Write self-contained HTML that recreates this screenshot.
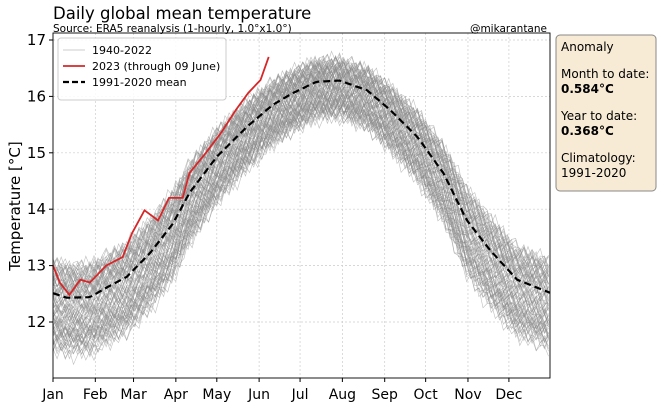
<!DOCTYPE html>
<html><head><meta charset="utf-8"><style>
body{margin:0;background:#fff;width:660px;height:408px;overflow:hidden;font-family:"DejaVu Sans","Liberation Sans",sans-serif}
svg text{font-family:"DejaVu Sans","Liberation Sans",sans-serif}
</style></head><body>
<svg id="chart" width="660" height="408" viewBox="0 0 660 408">
<text x="53" y="19" font-size="16.5" fill="#000">Daily global mean temperature</text>
<text x="53" y="32" font-size="10.5" fill="#000">Source: ERA5 reanalysis (1-hourly, 1.0°x1.0°)</text>
<text x="547" y="32" font-size="10.5" text-anchor="end" fill="#000">@mikarantane</text>
<g id="grid"></g>
<g id="gray"></g>
<g id="main"></g>
<rect x="53" y="33" width="497" height="345" fill="none" stroke="#000" stroke-width="0.9"/>
<g id="axes"></g>
<text transform="translate(20,206) rotate(-90)" font-size="15" text-anchor="middle">Temperature [°C]</text>
<g>
<rect x="58" y="38" width="168" height="62" rx="3" fill="#fff" fill-opacity="0.85" stroke="#ccc"/>
<line x1="63" y1="50" x2="85" y2="50" stroke="#ccc" stroke-width="1"/>
<text x="92" y="54" font-size="11">1940-2022</text>
<line x1="63" y1="66" x2="85" y2="66" stroke="#d62728" stroke-width="1.8"/>
<text x="92" y="70" font-size="11">2023 (through 09 June)</text>
<line x1="63" y1="82" x2="85" y2="82" stroke="#000" stroke-width="2.2" stroke-dasharray="6,3"/>
<text x="92" y="86" font-size="11">1991-2020 mean</text>
</g>
<g>
<rect x="556" y="35" width="100" height="156" rx="4" fill="#f7ebd5" stroke="#888"/>
<text x="561" y="51" font-size="12">Anomaly</text>
<text x="561" y="78" font-size="12">Month to date:</text>
<text x="561" y="93" font-size="12" font-weight="bold">0.584°C</text>
<text x="561" y="120" font-size="12">Year to date:</text>
<text x="561" y="135" font-size="12" font-weight="bold">0.368°C</text>
<text x="561" y="162" font-size="12">Climatology:</text>
<text x="561" y="177" font-size="12">1991-2020</text>
</g>
</svg>
<script>
const meanDays=[0,10,27,40,54,71,88,100,120,142,161,175,193,210,230,247,267,286,303,320,340,365];
const meanVals=[12.51,12.43,12.44,12.62,12.8,13.22,13.75,14.29,14.93,15.46,15.85,16.05,16.26,16.28,16.11,15.76,15.28,14.64,13.81,13.28,12.75,12.51];
const y2023Days=[0,5,12,20,27,39,51,58,67,77,85,95,100,112,123,134,143,152,158];
const y2023Vals=[13.0,12.7,12.48,12.75,12.7,13.0,13.15,13.58,13.98,13.8,14.2,14.2,14.64,15.0,15.35,15.76,16.06,16.29,16.7];
const yearOffsets=[-0.8,-0.75,-0.7,-0.72,-0.65,-0.7,-0.6,-0.68,-0.62,-0.55,-0.6,-0.58,-0.5,-0.55,-0.52,-0.6,-0.48,-0.5,-0.45,-0.55,-0.5,-0.42,-0.48,-0.4,-0.45,-0.38,-0.42,-0.35,-0.4,-0.3,-0.35,-0.32,-0.28,-0.3,-0.25,-0.22,-0.28,-0.2,-0.22,-0.15,-0.18,-0.12,-0.2,-0.1,-0.15,-0.08,-0.05,-0.1,0.0,-0.02,0.05,-0.05,0.08,0.02,0.1,0.05,0.12,0.08,0.15,0.1,0.18,0.05,0.2,0.12,0.22,0.15,0.25,0.2,0.28,0.22,0.3,0.18,0.32,0.25,0.35,0.3,0.38,0.32,0.4,0.35,0.42,0.38,0.45];
const wiggle=[0.05,-0.08,0.12,-0.03,0.09,-0.12,0.02,0.1,-0.06,0.07,-0.1,0.04,-0.02,0.11,-0.09,0.06,-0.04,0.08,-0.07,0.03];
const yTicks=[12,13,14,15,16,17];
const months=["Jan","Feb","Mar","Apr","May","Jun","Jul","Aug","Sep","Oct","Nov","Dec"];
const monthStart=[0,31,59,90,120,151,181,212,243,273,304,334];
const X=d=>53+d*1.365, Y=v=>40+(17-v)*56.4;
const NS="http://www.w3.org/2000/svg";
function mk(t,a,p){const e=document.createElementNS(NS,t);for(const k in a)e.setAttribute(k,a[k]);p.appendChild(e);return e;}
function interp(ds,vs,d){for(let i=1;i<ds.length;i++){if(d<=ds[i]){const t=(d-ds[i-1])/(ds[i]-ds[i-1]);return vs[i-1]+t*(vs[i]-vs[i-1]);}}return vs[vs.length-1];}
const grid=document.getElementById('grid'),axes=document.getElementById('axes'),gray=document.getElementById('gray'),main=document.getElementById('main');
yTicks.forEach(v=>{
 const l=mk('line',{x1:53,x2:550,y1:Y(v),y2:Y(v),stroke:'#ccc','stroke-dasharray':'2,2','stroke-width':0.7},grid);
 
 
 mk('line',{x1:49,x2:53,y1:Y(v),y2:Y(v),stroke:'#000'},axes);
 const t=mk('text',{x:46,y:Y(v)+5,'font-size':15,'text-anchor':'end'},axes);t.textContent=v;
 
 
});
months.forEach((m,i)=>{
 const x=X(monthStart[i]);
 if(i>0){const l=mk('line',{x1:x,x2:x,y1:33,y2:378,stroke:'#ccc','stroke-dasharray':'2,2','stroke-width':0.7},grid);
 
 }
 mk('line',{x1:x,x2:x,y1:378,y2:382,stroke:'#000'},axes);
 const t=mk('text',{x:x,y:399,'font-size':14,'text-anchor':'middle'},axes);t.textContent=m;
 
 
});
yearOffsets.forEach((o,yi)=>{
 let pts=[];
 for(let d=0;d<=365;d+=3){
  const season=1-0.35*Math.max(0,Math.min(1,(interp(meanDays,meanVals,d)-13.5)/2.8));
  const v=interp(meanDays,meanVals,d)+o*1.3*season+wiggle[(Math.floor(d/3)+yi*7)%wiggle.length]*1.2;
  pts.push(X(d).toFixed(1)+','+Y(v).toFixed(1));
 }
 const p=mk('polyline',{points:pts.join(' '),fill:'none',stroke:'#8a8a8a','stroke-opacity':0.55,'stroke-width':0.6},gray);
 
 
});
let mp=[];for(let d=0;d<=365;d+=2)mp.push(X(d).toFixed(1)+','+Y(interp(meanDays,meanVals,d)).toFixed(1));
const ml=mk('polyline',{points:mp.join(' '),fill:'none',stroke:'#000','stroke-width':2.2,'stroke-dasharray':'7,4'},main);


const rl=mk('polyline',{points:y2023Days.map((d,i)=>X(d).toFixed(1)+','+Y(y2023Vals[i]).toFixed(1)).join(' '),fill:'none',stroke:'#d62728','stroke-width':1.8},main);


</script>
</body></html>
